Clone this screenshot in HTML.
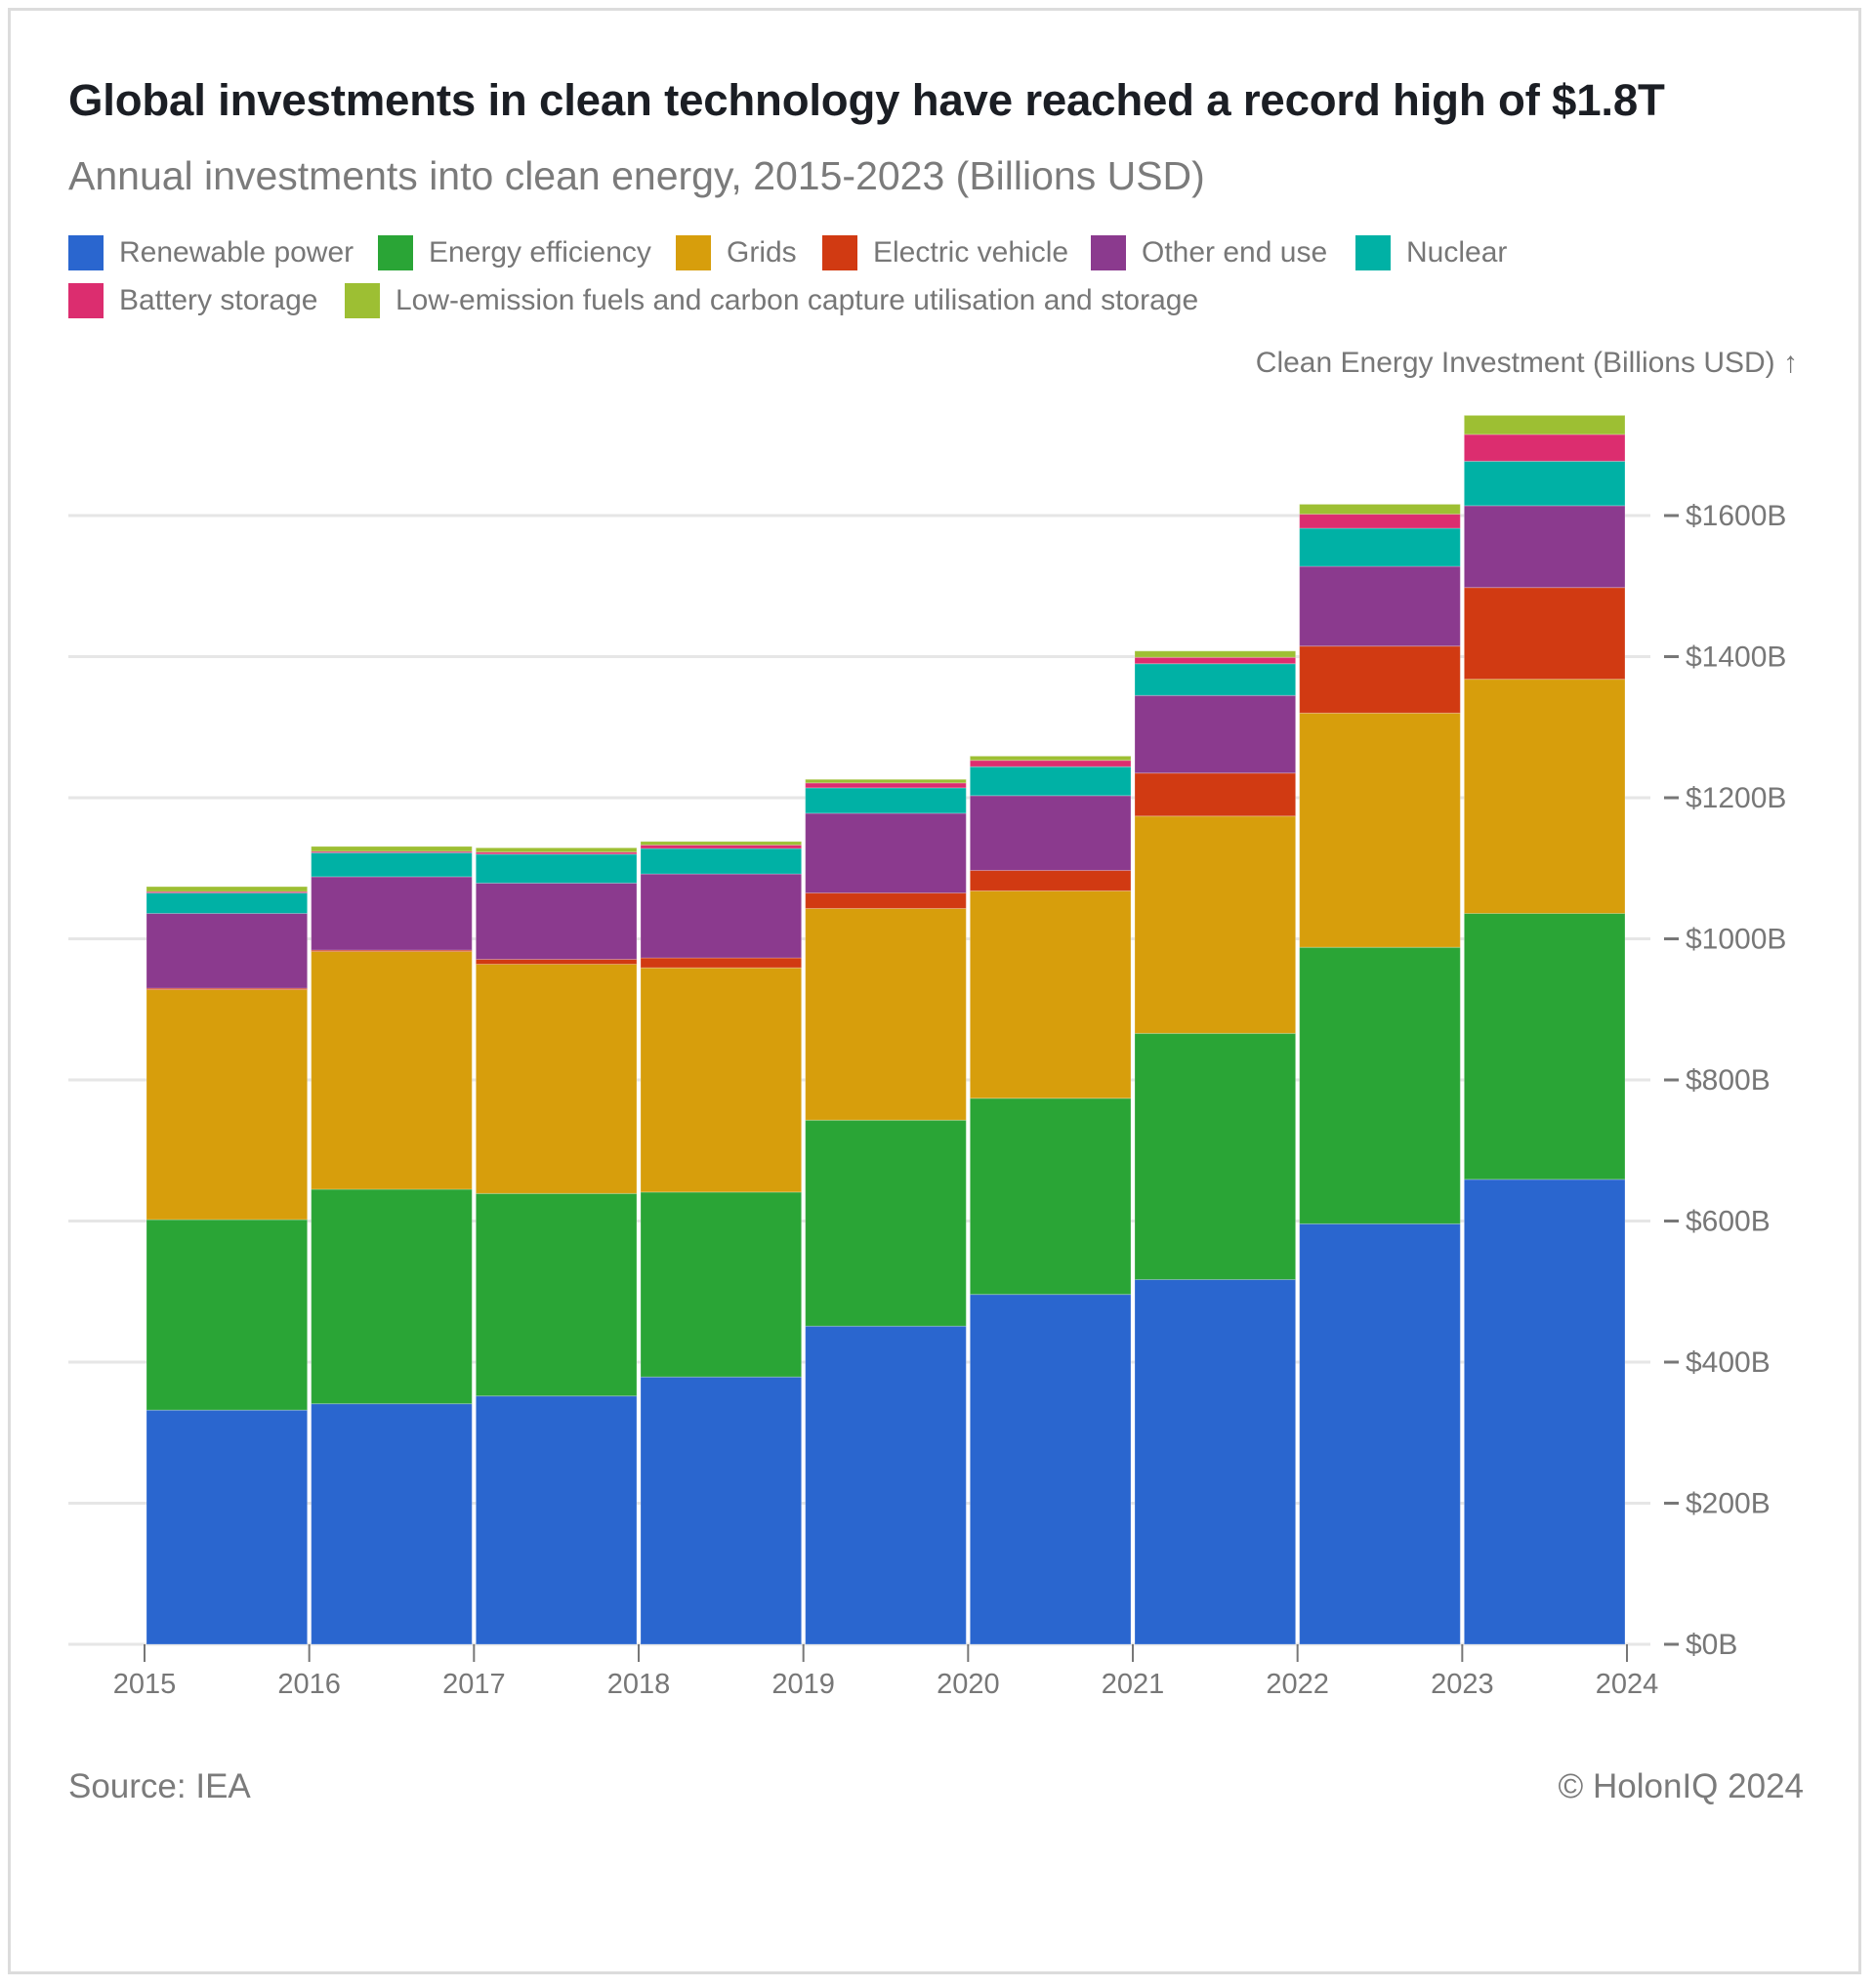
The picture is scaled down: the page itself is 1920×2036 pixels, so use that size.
<!DOCTYPE html>
<html><head><meta charset="utf-8">
<style>
html,body{margin:0;padding:0;background:#fff;}
body{width:1920px;height:2036px;position:relative;overflow:hidden;font-family:"Liberation Sans",sans-serif;}
.frame{position:absolute;left:8px;top:8px;width:1898px;height:2014px;border:3px solid #dcdcdc;box-sizing:border-box;}
.title{position:absolute;left:70px;top:77px;font-size:45.6px;font-weight:bold;color:#1b1e24;white-space:nowrap;letter-spacing:-0.2px;}
.subtitle{position:absolute;left:70px;top:157px;font-size:41px;color:#7b7b7b;white-space:nowrap;}
.leg{position:absolute;display:flex;align-items:center;font-size:30px;color:#777;white-space:nowrap;}
.sw{width:36px;height:36px;margin-right:16px;}
.foot{position:absolute;top:1810px;font-size:35px;color:#7b7b7b;}
</style></head><body>
<div class="frame"></div>
<div class="title">Global investments in clean technology have reached a record high of $1.8T</div>
<div class="subtitle">Annual investments into clean energy, 2015-2023 (Billions USD)</div>

<div class="leg" style="left:70px;top:241px"><div class="sw" style="background:#2a66cf"></div>Renewable power</div>
<div class="leg" style="left:387px;top:241px"><div class="sw" style="background:#2aa536"></div>Energy efficiency</div>
<div class="leg" style="left:692px;top:241px"><div class="sw" style="background:#d79e0c"></div>Grids</div>
<div class="leg" style="left:842px;top:241px"><div class="sw" style="background:#d13a12"></div>Electric vehicle</div>
<div class="leg" style="left:1117px;top:241px"><div class="sw" style="background:#8b3a8e"></div>Other end use</div>
<div class="leg" style="left:1388px;top:241px"><div class="sw" style="background:#00b1a5"></div>Nuclear</div>
<div class="leg" style="left:70px;top:290px"><div class="sw" style="background:#dc2d6f"></div>Battery storage</div>
<div class="leg" style="left:353px;top:290px"><div class="sw" style="background:#9dbf33"></div>Low-emission fuels and carbon capture utilisation and storage</div>

<div class="foot" style="left:70px">Source: IEA</div>
<div class="foot" style="right:73px">© HolonIQ 2024</div>

<svg id="chart" width="1920" height="2036" style="position:absolute;left:0;top:0"></svg>
<script>
const years = [2015,2016,2017,2018,2019,2020,2021,2022,2023];
const xTicks = [2015,2016,2017,2018,2019,2020,2021,2022,2023,2024];
const yTicks = [0,200,400,600,800,1000,1200,1400,1600];
const seriesNames = ["Renewable power","Energy efficiency","Grids","Electric vehicle","Other end use","Nuclear","Battery storage","Low-emission fuels"];
const seriesColors = ["#2a66cf","#2aa536","#d79e0c","#d13a12","#8b3a8e","#00b1a5","#dc2d6f","#9dbf33"];
const renewable = [332,341,352,379,451,496,517,596,659];
const efficiency = [270,304,287,262,292,278,349,392,377];
const grids = [326,337,325,318,300,294,308,332,332];
const ev = [2,2,7,14,22,29,61,95,130];
const otherEndUse = [106,104,108,119,113,106,110,113,116];
const nuclear = [29,34,41,36,36,41,45,54,63];
const battery = [2,2,3,5,7,9,9,20,38];
const lowEmission = [7,7,6,5,5,6,9,14,27];
const series = [renewable,efficiency,grids,ev,otherEndUse,nuclear,battery,lowEmission];

const svg = document.getElementById('chart');
const NS = 'http://www.w3.org/2000/svg';
const x0 = 148, x1 = 1666, yZero = 1684, yPer = (1684-528)/1600;
const xs = y => x0 + (y - xTicks[0]) * (x1 - x0) / (xTicks[xTicks.length-1] - xTicks[0]);
const ys = v => yZero - v * yPer;
function mk(tag, attrs){const e=document.createElementNS(NS,tag);for(const k in attrs)e.setAttribute(k,attrs[k]);svg.appendChild(e);return e;}

yTicks.forEach(t=>{
  const g = mk('line',{x1:70,x2:1690,y1:ys(t),y2:ys(t),stroke:'#e6e6e6','stroke-width':3});
  
  
  const tk = mk('line',{x1:1704,x2:1719,y1:ys(t),y2:ys(t),stroke:'#777','stroke-width':3});
  
  
  const tx = mk('text',{x:1726,y:ys(t)+10,'font-size':30,fill:'#777','font-family':'Liberation Sans, sans-serif'});
  tx.textContent = '$'+t+'B';
  
  
});

years.forEach((yr,i)=>{
  let base = 0;
  const left = xs(yr)+2, right = xs(yr+1)-2;
  series.forEach((s,j)=>{
    const v = s[i];
    const r = mk('rect',{x:left,y:ys(base+v),width:right-left,height:v*yPer,fill:seriesColors[j],stroke:'rgba(255,255,255,0.25)','stroke-width':1});
    
    
    base += v;
  });
});

xTicks.forEach(t=>{
  const tk = mk('line',{x1:xs(t),x2:xs(t),y1:yZero,y2:yZero+18,stroke:'#777','stroke-width':2});
  
  
  const tx = mk('text',{x:xs(t),y:1734,'font-size':29,fill:'#777','text-anchor':'middle','font-family':'Liberation Sans, sans-serif'});
  tx.textContent = t;
  
  
});

const at = mk('text',{x:1841,y:381,'font-size':30,fill:'#777','text-anchor':'end','font-family':'Liberation Sans, sans-serif'});
at.textContent = 'Clean Energy Investment (Billions USD) ↑';


</script>
</body></html>
